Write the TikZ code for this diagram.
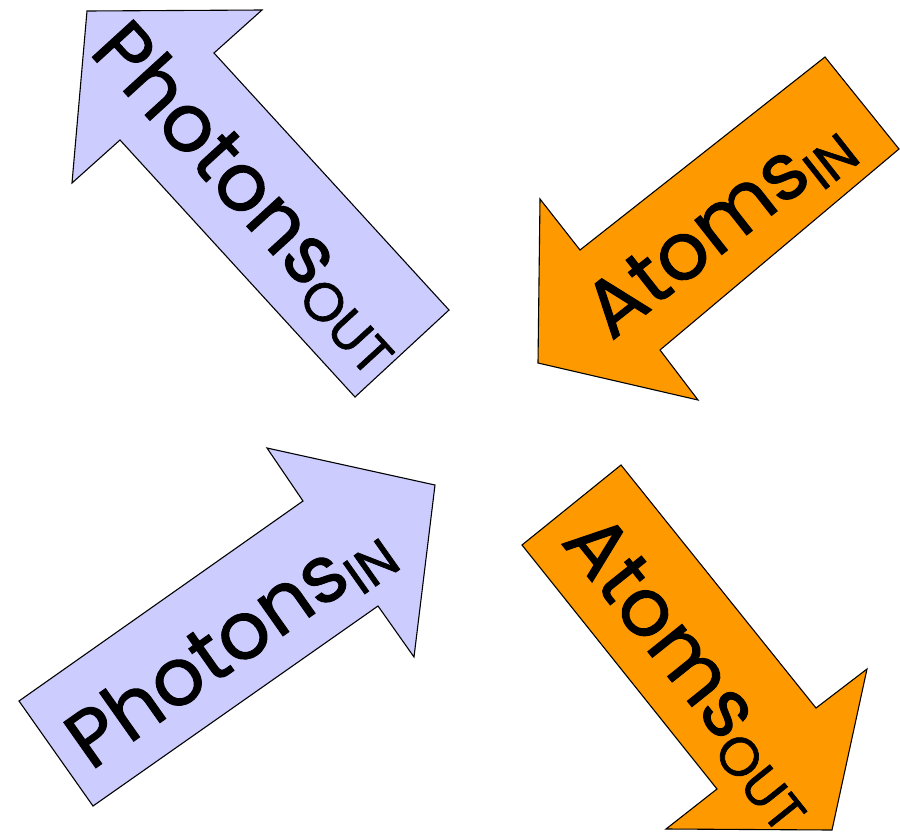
\documentclass[tikz,border=0pt]{standalone}
\usepackage{fontspec}
\setmainfont{Poppins}[FakeBold=1.2]
\definecolor{lightblue}{HTML}{CCCCFF}
\definecolor{orangefill}{HTML}{FF9900}
\tikzset{
  bigarrow/.style={draw=black, line width=1.1pt, line join=miter},
  lbl/.style={inner sep=0pt, anchor=center, font=\fontsize{80}{80}\selectfont}
}
\newcommand{\subtxt}[1]{\raisebox{-13pt}{\fontsize{54}{54}\selectfont #1}}
\begin{document}
\begin{tikzpicture}[x=1pt,y=-1pt]
\useasboundingbox (0,0) rectangle (900,836);
% Photons OUT (top left)
\filldraw[bigarrow, fill=lightblue] (87,11) -- (262,10) -- (214,53) -- (449,310) -- (355,397) -- (120,140) -- (72,183) -- cycle;
% Atoms IN (top right)
\filldraw[bigarrow, fill=orangefill] (825,57) -- (899,149) -- (660,350) -- (698,400) -- (538,363) -- (540,199) -- (580,250) -- cycle;
% Photons IN (bottom left)
\filldraw[bigarrow, fill=lightblue] (19,701) -- (303,501) -- (267,448) -- (435,485) -- (414,657) -- (378,606) -- (93,806) -- cycle;
% Atoms OUT (bottom right)
\filldraw[bigarrow, fill=orangefill] (522,545) -- (621,465) -- (816,708) -- (867,669) -- (832,830) -- (666,829) -- (717,789) -- cycle;
% labels
\node[lbl, rotate=-47.6] (pout) at (250,196) {Photons\subtxt{OUT}};
\node[lbl, rotate=38.2] (ain) at (720,229) {Atoms\subtxt{IN}};
\node[lbl, rotate=35.2] (pin) at (230,645) {Photons\subtxt{IN}};
\node[lbl, rotate=-51.3] (aout) at (691,672) {Atoms\subtxt{OUT}};
\end{tikzpicture}
\end{document}
